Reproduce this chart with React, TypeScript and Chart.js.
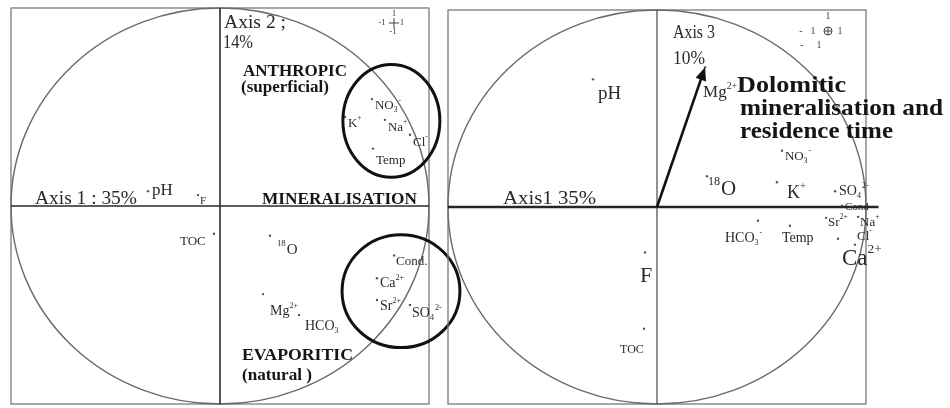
import React, { useEffect, useRef } from "react";
import { Chart, registerables } from "chart.js";
Chart.register(...registerables);

// ---------- Panel 1 : Axis 1 (35%) x Axis 2 (14%) ----------
const varsP1 = ["pH", "F", "TOC", "^{18}O", "Mg^{2+}", "HCO_{3}", "Cond.", "Ca^{2+}", "Sr^{2+}", "SO_{4}^{2-}", "NO_{3}^{-}", "K^{+}", "Na^{+}", "Cl^{-}", "Temp"];
const axis1P1 = [-0.344, -0.105, -0.029, 0.239, 0.206, 0.378, 0.833, 0.751, 0.751, 0.909, 0.727, 0.598, 0.789, 0.909, 0.732];
const axis2P1 = [0.075, 0.055, -0.14, -0.15, -0.445, -0.55, -0.25, -0.365, -0.475, -0.5, 0.54, 0.45, 0.435, 0.36, 0.29];

// grouping ellipses (anthropic / evaporitic), in axis units
const groupCx = [0.82, 0.866];
const groupCy = [0.43, -0.43];
const groupRx = [0.232, 0.282];
const groupRy = [0.285, 0.285];

// ---------- Panel 2 : Axis 1 (35%) x Axis 3 (10%) ----------
const varsP2 = ["pH", "Mg^{2+}", "NO_{3}^{-}", "^{18}O", "K^{+}", "SO_{4}^{2-}", "Cond", "Sr^{2+}", "Na^{+}", "Cl^{-}", "Ca^{2+}", "HCO_{3}^{-}", "Temp", "F", "TOC"];
const axis1P2 = [-0.306, 0.23, 0.598, 0.239, 0.574, 0.852, 0.885, 0.809, 0.962, 0.866, 0.947, 0.483, 0.636, -0.057, -0.062];
const axis3P2 = [0.648, 0.709, 0.286, 0.156, 0.126, 0.08, 0.005, -0.055, -0.05, -0.161, -0.191, -0.07, -0.095, -0.231, -0.618];
const arrowVar = "Mg^{2+}";

// ---------- label layout (font size, offset from point) ----------
const fontP1 = [17, 11, 13, 15, 14, 14, 13, 14, 14, 14, 13, 13, 13, 13, 13];
const offP1 = [[4, 4], [2, 9], [-34, 11], [7, 18], [7, 21], [6, 15], [2, 9], [3, 9], [3, 10], [2, 12], [3, 10], [3, 10], [3, 11], [3, 11], [3, 15]];
const fontP2 = [19, 17, 13, 21, 18, 14, 11, 13, 13, 13, 23, 14, 14, 22, 12];
const offP2 = [[5, 20], [-2, 30], [3, 9], [1, 19], [10, 16], [4, 4], [3, 4], [2, 8], [2, 9], [19, 1], [-13, 20], [-33, 21], [-8, 16], [-5, 29], [-24, 24]];

type Note = { t: string; x: number; y: number; fs: number; w: number; bold?: boolean };
const notesP1: Note[] = [
  { t: "Axis 1 : 35%", x: 35, y: 204, fs: 19, w: 102 },
  { t: "Axis 2 ;", x: 224, y: 28, fs: 19, w: 62 },
  { t: "14%", x: 223, y: 48, fs: 19, w: 30 },
  { t: "ANTHROPIC", x: 243, y: 76, fs: 17, w: 104, bold: true },
  { t: "(superficial)", x: 241, y: 92, fs: 16, w: 88, bold: true },
  { t: "MINERALISATION", x: 262, y: 204, fs: 16, w: 155, bold: true },
  { t: "EVAPORITIC", x: 242, y: 360, fs: 17, w: 111, bold: true },
  { t: "(natural )", x: 242, y: 380, fs: 16, w: 70, bold: true },
];
const notesP2: Note[] = [
  { t: "Axis 3", x: 233, y: 38, fs: 18, w: 42 },
  { t: "10%", x: 233, y: 64, fs: 18, w: 32 },
  { t: "Axis1 35%", x: 63, y: 204, fs: 19, w: 93 },
  { t: "Dolomitic", x: 297, y: 92, fs: 23, w: 109, bold: true },
  { t: "mineralisation and", x: 300, y: 115, fs: 23, w: 203, bold: true },
  { t: "residence time", x: 300, y: 138, fs: 23, w: 153, bold: true },
];

const FAMILY = "'Liberation Serif', 'DejaVu Serif', serif";

function parseParts(s: string) {
  const out: { t: string; s?: string }[] = [];
  const re = /(\^|_)\{([^}]*)\}|([^^_]+)/g;
  let m: RegExpExecArray | null;
  while ((m = re.exec(s))) {
    if (m[3]) out.push({ t: m[3] });
    else out.push({ t: m[2], s: m[1] === "^" ? "sup" : "sub" });
  }
  return out;
}

function drawRich(ctx: CanvasRenderingContext2D, s: string, x: number, y: number, fs: number) {
  let cx = x;
  ctx.textBaseline = "alphabetic";
  ctx.textAlign = "left";
  for (const p of parseParts(s)) {
    const size = p.s ? Math.max(7, fs * 0.58) : fs;
    ctx.font = `${size}px ${FAMILY}`;
    const dy = p.s === "sup" ? -fs * 0.5 : p.s === "sub" ? fs * 0.22 : 0;
    ctx.fillText(p.t, cx, y + dy);
    cx += ctx.measureText(p.t).width + (p.s ? 1 : 0);
  }
}

function drawFit(ctx: CanvasRenderingContext2D, n: Note) {
  ctx.save();
  ctx.font = `${n.bold ? "bold " : ""}${n.fs}px ${FAMILY}`;
  ctx.textBaseline = "alphabetic";
  ctx.textAlign = "left";
  const w = ctx.measureText(n.t).width;
  ctx.translate(n.x, n.y);
  ctx.scale(n.w / w, 1);
  ctx.fillStyle = n.bold ? "#151515" : "#2a2a2a";
  ctx.fillText(n.t, 0, 0);
  ctx.restore();
}

function makePlugin(panel: 1 | 2) {
  return {
    id: "pcaDecor" + panel,
    beforeDatasetsDraw(chart: any) {
      const ctx: CanvasRenderingContext2D = chart.ctx;
      const xs = chart.scales.x, ys = chart.scales.y;
      const a = chart.chartArea;
      const x0 = xs.getPixelForValue(0), y0 = ys.getPixelForValue(0);
      const rx = xs.getPixelForValue(1) - x0, ry = y0 - ys.getPixelForValue(1);
      ctx.save();
      ctx.strokeStyle = "#7a7a7a";
      ctx.lineWidth = 1.3;
      ctx.strokeRect(a.left, a.top, a.right - a.left, a.bottom - a.top);
      ctx.strokeStyle = "#6a6a6a";
      ctx.lineWidth = 1.4;
      ctx.beginPath();
      ctx.ellipse(x0, y0, rx, ry, 0, 0, Math.PI * 2);
      ctx.stroke();
      if (panel === 1) {
        ctx.strokeStyle = "#2a2a2a";
        ctx.lineWidth = 1.6;
        ctx.beginPath();
        ctx.moveTo(x0, a.top); ctx.lineTo(x0, a.bottom);
        ctx.moveTo(a.left, y0); ctx.lineTo(a.right, y0);
        ctx.stroke();
      } else {
        ctx.strokeStyle = "#555";
        ctx.lineWidth = 1.3;
        ctx.beginPath();
        ctx.moveTo(x0, a.top); ctx.lineTo(x0, a.bottom);
        ctx.stroke();
      }
      ctx.restore();
    },
    afterDatasetsDraw(chart: any) {
      const ctx: CanvasRenderingContext2D = chart.ctx;
      const xs = chart.scales.x, ys = chart.scales.y;
      const a = chart.chartArea;
      const x0 = xs.getPixelForValue(0), y0 = ys.getPixelForValue(0);
      const names = panel === 1 ? varsP1 : varsP2;
      const vx = panel === 1 ? axis1P1 : axis1P2;
      const vy = panel === 1 ? axis2P1 : axis3P2;
      const fonts = panel === 1 ? fontP1 : fontP2;
      const offs = panel === 1 ? offP1 : offP2;
      ctx.save();
      ctx.fillStyle = "#2a2a2a";
      names.forEach((nm, i) => {
        const px = xs.getPixelForValue(vx[i]);
        const py = ys.getPixelForValue(vy[i]);
        drawRich(ctx, nm, px + offs[i][0], py + offs[i][1], fonts[i]);
      });
      ctx.restore();

      (panel === 1 ? notesP1 : notesP2).forEach((n) => drawFit(ctx, n));

      ctx.save();
      if (panel === 1) {
        ctx.strokeStyle = "#111";
        ctx.lineWidth = 3;
        for (let k = 0; k < groupCx.length; k++) {
          const cx = xs.getPixelForValue(groupCx[k]);
          const cy = ys.getPixelForValue(groupCy[k]);
          const erx = xs.getPixelForValue(groupCx[k] + groupRx[k]) - cx;
          const ery = cy - ys.getPixelForValue(groupCy[k] + groupRy[k]);
          ctx.beginPath();
          ctx.ellipse(cx, cy, erx, ery, 0, 0, Math.PI * 2);
          ctx.stroke();
        }
        ctx.fillStyle = "#444";
        ctx.strokeStyle = "#444";
        ctx.lineWidth = 1;
        ctx.font = `9px ${FAMILY}`;
        ctx.textAlign = "center";
        ctx.textBaseline = "middle";
        ctx.fillText("1", 394, 14);
        ctx.fillText("-1", 382, 23);
        ctx.fillText("1", 402, 23);
        ctx.fillText("-1", 393, 32);
        ctx.beginPath();
        ctx.moveTo(394, 18); ctx.lineTo(394, 28);
        ctx.moveTo(389, 23); ctx.lineTo(399, 23);
        ctx.stroke();
      } else {
        ctx.strokeStyle = "#262626";
        ctx.lineWidth = 2.6;
        ctx.beginPath();
        ctx.moveTo(a.left, y0);
        ctx.lineTo(xs.getPixelForValue(1.06), y0);
        ctx.stroke();
        const k = varsP2.indexOf(arrowVar);
        const tx = xs.getPixelForValue(axis1P2[k]);
        const ty = ys.getPixelForValue(axis3P2[k]);
        const ang = Math.atan2(ty - y0, tx - x0);
        ctx.strokeStyle = "#111";
        ctx.fillStyle = "#111";
        ctx.lineWidth = 2.6;
        ctx.beginPath();
        ctx.moveTo(x0, y0);
        ctx.lineTo(tx - Math.cos(ang) * 8, ty - Math.sin(ang) * 8);
        ctx.stroke();
        ctx.beginPath();
        ctx.moveTo(tx, ty);
        ctx.lineTo(tx - Math.cos(ang) * 13 + Math.sin(ang) * 5.5, ty - Math.sin(ang) * 13 - Math.cos(ang) * 5.5);
        ctx.lineTo(tx - Math.cos(ang) * 13 - Math.sin(ang) * 5.5, ty - Math.sin(ang) * 13 + Math.cos(ang) * 5.5);
        ctx.closePath();
        ctx.fill();
        ctx.fillStyle = "#444";
        ctx.strokeStyle = "#444";
        ctx.lineWidth = 1;
        ctx.font = `10px ${FAMILY}`;
        ctx.textAlign = "center";
        ctx.textBaseline = "middle";
        ctx.fillText("1", 388, 16);
        ctx.fillText("-", 361, 31);
        ctx.fillText("1", 373, 31);
        ctx.fillText("1", 400, 31);
        ctx.fillText("-", 362, 45);
        ctx.fillText("1", 379, 45);
        ctx.beginPath();
        ctx.arc(388, 31, 4, 0, Math.PI * 2);
        ctx.moveTo(384, 31); ctx.lineTo(392, 31);
        ctx.moveTo(388, 27); ctx.lineTo(388, 35);
        ctx.stroke();
      }
      ctx.restore();
    },
  };
}

function Panel({ panel, left, width, pad }: { panel: 1 | 2; left: number; width: number; pad: any }) {
  const ref = useRef<HTMLCanvasElement>(null);
  useEffect(() => {
    if (!ref.current) return;
    const vx = panel === 1 ? axis1P1 : axis1P2;
    const vy = panel === 1 ? axis2P1 : axis3P2;
    const chart = new Chart(ref.current, {
      type: "scatter",
      data: {
        datasets: [
          {
            data: vx.map((x, i) => ({ x, y: vy[i] })),
            pointRadius: 1.2,
            pointBackgroundColor: "#555",
            pointBorderWidth: 0,
            clip: false as any,
          },
        ],
      },
      options: {
        animation: false,
        responsive: false,
        maintainAspectRatio: false,
        layout: { padding: pad },
        scales: {
          x: { type: "linear", min: -1, max: 1, display: false },
          y: { type: "linear", min: -1, max: 1, display: false },
        },
        plugins: { legend: { display: false }, tooltip: { enabled: false } },
        events: [],
      },
      plugins: [makePlugin(panel)],
    });
    return () => chart.destroy();
  }, [panel]);
  return (
    <canvas
      ref={ref}
      width={width}
      height={408}
      style={{ position: "absolute", left, top: 0, width, height: 408 }}
    />
  );
}

export default function App() {
  return (
    <div style={{ position: "fixed", left: 0, top: 0, width: 950, height: 408, background: "#fff", overflow: "hidden" }}>
      <Panel panel={1} left={0} width={470} pad={{ left: 11, right: 41, top: 8, bottom: 0 }} />
      <Panel panel={2} left={440} width={510} pad={{ left: 8, right: 84, top: 10, bottom: 0 }} />
    </div>
  );
}
